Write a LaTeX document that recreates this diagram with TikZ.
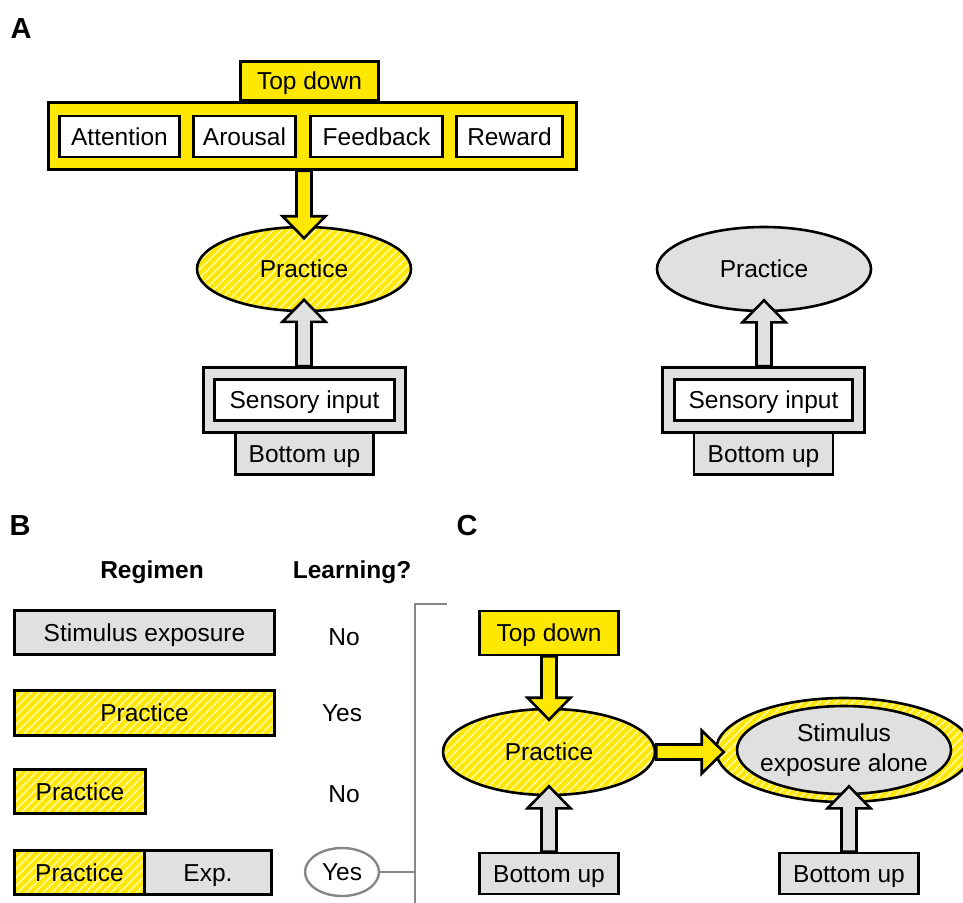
\documentclass[tikz,border=0pt]{standalone}
\usepackage{fontspec}
\setmainfont{Liberation Sans}
\usetikzlibrary{shapes.geometric,patterns.meta,positioning,calc}

\definecolor{tdyellow}{RGB}{255,232,0}
\definecolor{bugrey}{RGB}{224,224,224}
\definecolor{brgrey}{RGB}{135,135,135}

\tikzset{
  txt/.style={text height=17.5pt, text depth=0pt},
  box/.style={draw, line width=2.6pt, inner sep=0pt, minimum height=41pt, txt},
  whitebox/.style={box, fill=white},
  greybox/.style={box, fill=bugrey},
  yelbox/.style={box, fill=tdyellow},
  hatch/.style={preaction={fill=tdyellow},
    pattern={Lines[angle=45,distance=6pt,line width=1.6pt]},
    pattern color=white!65!tdyellow},
  hatchbox/.style={box, hatch},
  oval/.style={ellipse, draw, line width=2.6pt, inner sep=0pt,
    minimum width=214pt, minimum height=84pt},
  panel/.style={font=\fontsize{29}{34}\selectfont\bfseries},
  head/.style={font=\fontsize{24.5}{30}\selectfont\bfseries},
}

% freccia a blocco tra due punti
\newcommand{\blockarr}[3][]{%
  \draw[line width=2.6pt, line join=miter, #1]
    let \p1=(#2), \p2=(#3),
        \n1={veclen(\x2-\x1,\y2-\y1)},
        \n2={(\x2-\x1)/\n1}, \n3={(\y2-\y1)/\n1}
    in ({\x1-(\n3)*7.5},{\y1+(\n2)*7.5})
    -- ({\x1+(\n2)*(\n1-22)-(\n3)*7.5},{\y1+(\n3)*(\n1-22)+(\n2)*7.5})
    -- ({\x1+(\n2)*(\n1-22)-(\n3)*21.5},{\y1+(\n3)*(\n1-22)+(\n2)*21.5})
    -- (\x2,\y2)
    -- ({\x1+(\n2)*(\n1-22)+(\n3)*21.5},{\y1+(\n3)*(\n1-22)-(\n2)*21.5})
    -- ({\x1+(\n2)*(\n1-22)+(\n3)*7.5},{\y1+(\n3)*(\n1-22)-(\n2)*7.5})
    -- ({\x1+(\n3)*7.5},{\y1-(\n2)*7.5}) -- cycle;}

\begin{document}
\begin{tikzpicture}[x=1pt, y=-1pt, font=\fontsize{24.5}{30}\selectfont]
  \useasboundingbox (0,0) rectangle (963,902);

  % pannello A, sinistra
  \node[panel] (labA) at (21,29) {A};
  \node[yelbox, minimum width=528pt, minimum height=67pt] (contA) at (312.5,136) {};
  \node[yelbox, minimum width=138pt, minimum height=39pt, anchor=south] (tdA) at (309.5,102) {Top down};
  \node[whitebox, minimum width=120pt] (att) at (119.5,136.5) {Attention};
  \node[whitebox, minimum width=102pt] (aro) at (244.5,136.5) {Arousal};
  \node[whitebox, minimum width=132pt] (fb) at (376.5,136.5) {Feedback};
  \node[whitebox, minimum width=106pt] (rew) at (509.5,136.5) {Reward};

  \node[oval, hatch, txt] (pracL) at (304,269) {Practice};
  \node[greybox, minimum width=202pt, minimum height=65pt] (sensL) at (304.5,400) {};
  \node[whitebox, minimum width=180pt] (sinL) at (sensL.center) {Sensory input};
  \node[greybox, minimum width=138pt, minimum height=42pt, below=-2.6pt of sensL] (buL) {Bottom up};

  \blockarr[fill=tdyellow]{pracL.north |- contA.south}{$(pracL.north)+(0,12)$}
  \blockarr[fill=bugrey]{pracL.south |- sensL.north}{$(pracL.south)+(0,-12)$}

  % pannello A, destra
  \node[oval, fill=bugrey, txt] (pracR) at (764,269) {Practice};
  \node[greybox, minimum width=202pt, minimum height=65pt] (sensR) at (763.5,400) {};
  \node[whitebox, minimum width=178pt] (sinR) at (sensR.center) {Sensory input};
  \node[greybox, minimum width=139pt, minimum height=42pt, below=-2.6pt of sensR] (buR) {Bottom up};

  \blockarr[fill=bugrey]{pracR.south |- sensR.north}{$(pracR.south)+(0,-12)$}

  % pannello B
  \node[panel] (labB) at (20,526) {B};
  \node[head] (regh) at (152,572) {Regimen};
  \node[head] (learnh) at (352,572) {Learning?};

  \node[greybox, minimum width=260pt, minimum height=44pt] (stim) at (144.5,632.5) {Stimulus exposure};
  \node[txt] (no1) at (344,637) {No};
  \node[hatchbox, minimum width=260pt, minimum height=45pt] (prac2) at (144.5,713) {Practice};
  \node[txt] (yes1) at (342,713) {Yes};
  \node[hatchbox, minimum width=131pt, minimum height=44pt] (prac3) at (80,791.5) {Practice};
  \node[txt] (no2) at (344,794) {No};
  \node[hatchbox, minimum width=130pt, minimum height=44pt] (prac4) at (79.5,872.5) {Practice};
  \node[greybox, minimum width=127pt, minimum height=44pt, right=-2.6pt of prac4] (expo) {Exp.};
  \node[ellipse, draw=brgrey, line width=2.4pt, fill=white, inner sep=0pt, txt,
    minimum width=74pt, minimum height=48pt] (yes2) at (342,872) {Yes};

  % parentesi
  \coordinate (brtop) at (447,604);
  \coordinate (brbot) at (415,906);
  \draw[brgrey, line width=2.4pt] (brtop) -- (brtop -| brbot) -- (brbot);
  \draw[brgrey, line width=2.4pt] (yes2.east) -- (yes2.east -| brbot);

  % pannello C
  \node[panel] (labC) at (467,526) {C};
  \node[yelbox, minimum width=139pt, minimum height=44pt] (tdC) at (549,633) {Top down};
  \node[oval, hatch, txt, minimum width=212pt, minimum height=86pt] (pracC) at (549,752) {Practice};
  \node[oval, hatch, minimum width=256pt, minimum height=104pt] (outC) at (844,750) {};
  \node[oval, fill=bugrey, align=center, inner xsep=-12pt, minimum width=214pt,
    minimum height=88pt] (stimC) at (844,750) {Stimulus\\exposure alone};
  \node[greybox, minimum width=139pt, minimum height=41pt] (buC1) at (549,873.5) {Bottom up};
  \node[greybox, minimum width=139pt, minimum height=41pt] (buC2) at (849,873.5) {Bottom up};

  \blockarr[fill=tdyellow]{tdC.south}{$(pracC.north)+(0,12)$}
  \blockarr[fill=tdyellow]{pracC.east}{$(pracC.east -| outC.west)+(9,0)$}
  \blockarr[fill=bugrey]{buC1.north}{$(pracC.south)+(0,-10)$}
  \blockarr[fill=bugrey]{buC2.north}{$(buC2.north |- stimC.south)+(0,-9)$}
\end{tikzpicture}
\end{document}
